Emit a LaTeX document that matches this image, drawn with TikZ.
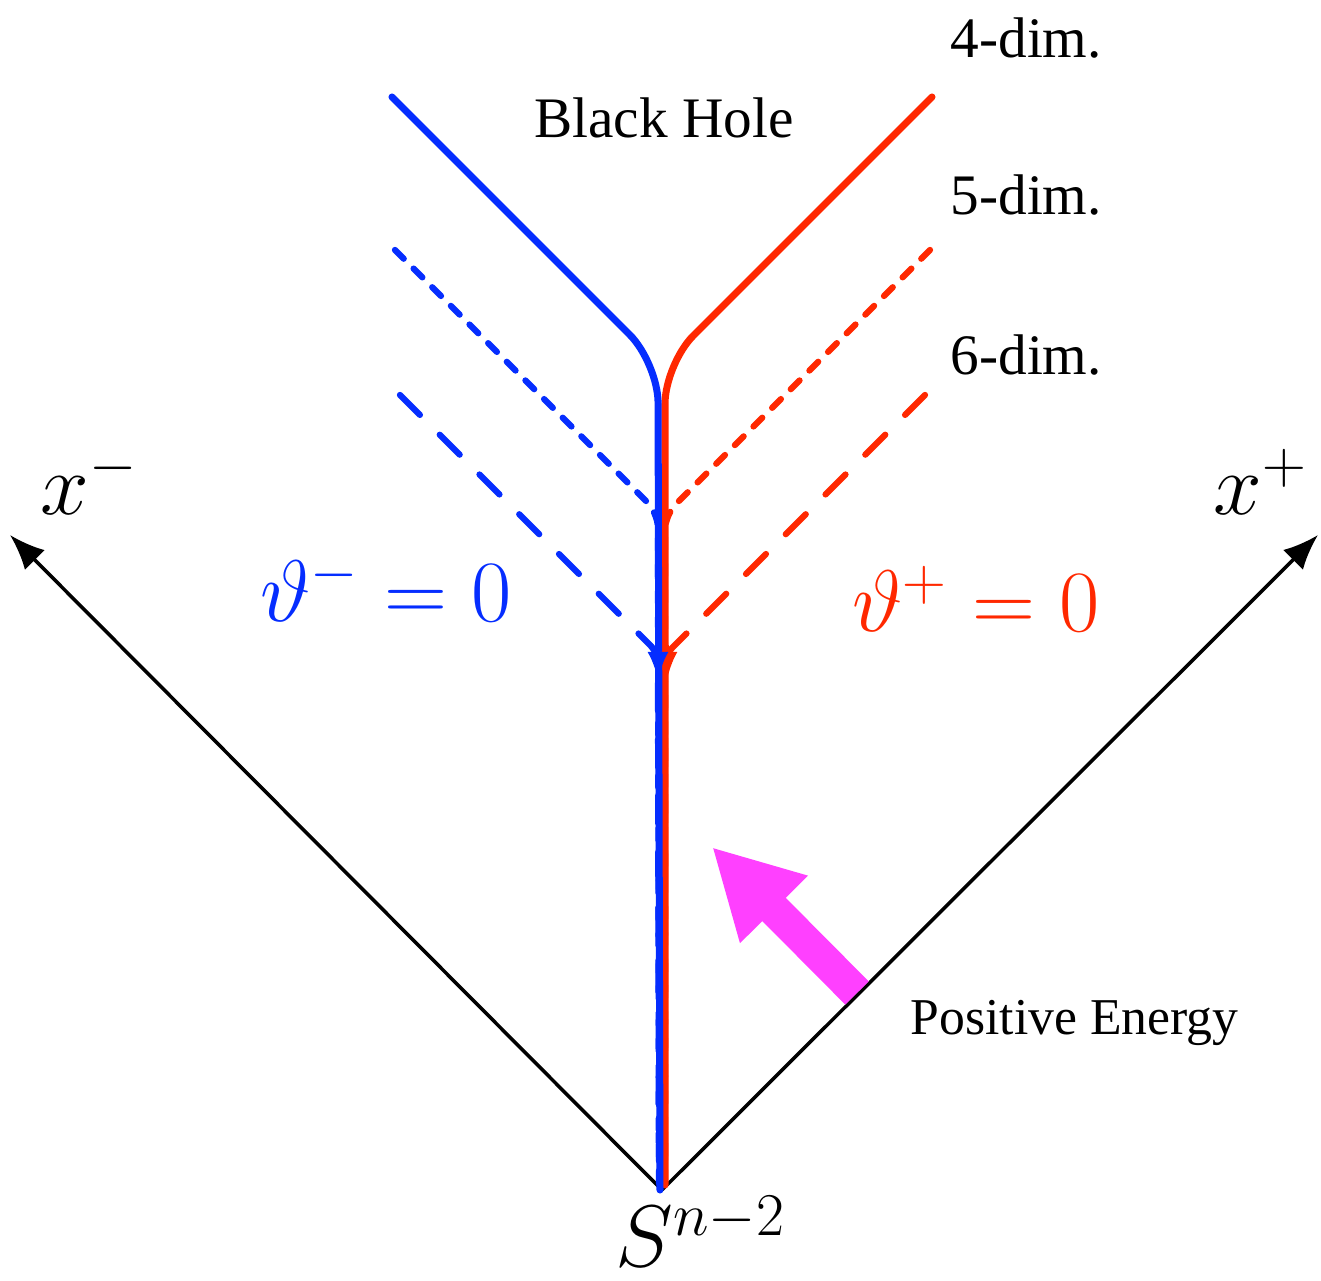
\documentclass[tikz,border=0pt]{standalone}
\usepackage{fontspec}
\setmainfont{Liberation Serif}
\usepackage{tikz}
\usetikzlibrary{
    arrows.meta, % For Latex and Triangle tips
    calc
}
\definecolor{bhblue}{RGB}{5,45,255}
\definecolor{bhred}{RGB}{255,40,0}
\definecolor{energy_pink}{RGB}{255,64,255}
\tikzset{
    % Light-cone axes
    axis_line/.style={draw=black, line width=1pt, -{Latex[length=10pt, width=8pt]}},
    % Horizon curves, one style per dimension
    dim_four/.style={line width=2pt, line cap=round, rounded corners=0.4cm},
    dim_five/.style={line width=1.8pt, line cap=round, rounded corners=0.15cm, dash pattern=on 3.5pt off 4pt},
    dim_six/.style={line width=1.8pt, line cap=round, rounded corners=0.1cm, dash pattern=on 8pt off 8pt},
    % Labels
    dim_label/.style={anchor=base west, inner sep=0pt, font=\fontsize{16.3pt}{19pt}\selectfont},
    math_label/.style={inner sep=0pt, font=\fontsize{24pt}{28pt}\selectfont},
    % Fat arrow for the energy flux
    energy_arrow/.style={draw=energy_pink, line width=0.33cm, -{Triangle[length=0.88cm, width=0.89cm]}}
}
\begin{document}
\begin{tikzpicture}
\useasboundingbox (-6.62,-0.91) rectangle (6.59,11.90);

% --- AXES ---
\coordinate (bifurcation) at (0,0);
\coordinate (xminus_end) at (-6.52,6.55);
\coordinate (xplus_end) at (6.56,6.55);
\draw[axis_line] (bifurcation) -- (xminus_end);
\draw[axis_line] (bifurcation) -- (xplus_end);

% --- HORIZONS ---
% 6-dim. (long dashes)
\draw[dim_six, draw=bhred] (2.63,7.95) -- (0.03,5.35) -- (0.03,0.05);
\draw[dim_six, draw=bhblue] (-2.62,7.95) -- (-0.04,5.37) -- (-0.03,0.05);
% 5-dim. (short dashes)
\draw[dim_five, draw=bhred] (2.68,9.40) -- (0.03,6.75) -- (0.03,0.05);
\draw[dim_five, draw=bhblue] (-2.67,9.40) -- (-0.04,6.77) -- (-0.03,0.05);
% 4-dim. (solid)
\draw[dim_four, draw=bhred] (2.70,10.93) -- (0.03,8.26) -- (0.03,0.05);
\draw[dim_four, draw=bhblue] (-2.70,10.93) -- (-0.04,8.27) -- (-0.02,0);

% Direction marks on the vertical part
\draw[bhred, line width=1.2pt, -{Latex[length=8pt, width=6pt]}] (0.05,5.45) -- (0.05,5.10);
\draw[bhblue, line width=1.2pt, -{Latex[length=8pt, width=6pt]}] (-0.04,5.45) -- (-0.04,5.10);

% --- ENERGY FLUX ---
\coordinate (flux_tail) at (1.95,1.97);
\coordinate (flux_tip) at (0.50,3.43);
\draw[energy_arrow] (flux_tail) -- (flux_tip);

% --- LABELS ---
\node[dim_label] (four_dim) at (2.88,11.32) {4-dim.};
\node[dim_label] (five_dim) at (2.88,9.75) {5-dim.};
\node[dim_label] (six_dim) at (2.88,8.15) {6-dim.};
\node[dim_label, anchor=base] (black_hole) at (0.02,10.52) {Black Hole};
\node[dim_label, font=\fontsize{14.7pt}{18pt}\selectfont] (positive_energy) at (2.48,1.55) {Positive Energy};

\node[math_label, anchor=base, text=bhblue] (theta_minus) at (-2.76,5.68) {$\vartheta^- = 0$};
\node[math_label, anchor=base, text=bhred] (theta_plus) at (3.14,5.58) {$\vartheta^+ = 0$};
\node[math_label, anchor=base west] (x_minus) at (-6.22,6.75) {$x^-$};
\node[math_label, anchor=base west] (x_plus) at (5.51,6.75) {$x^+$};
\node[math_label, anchor=base west] (sphere) at (-0.47,-0.77) {$S^{n-2}$};

\end{tikzpicture}
\end{document}
